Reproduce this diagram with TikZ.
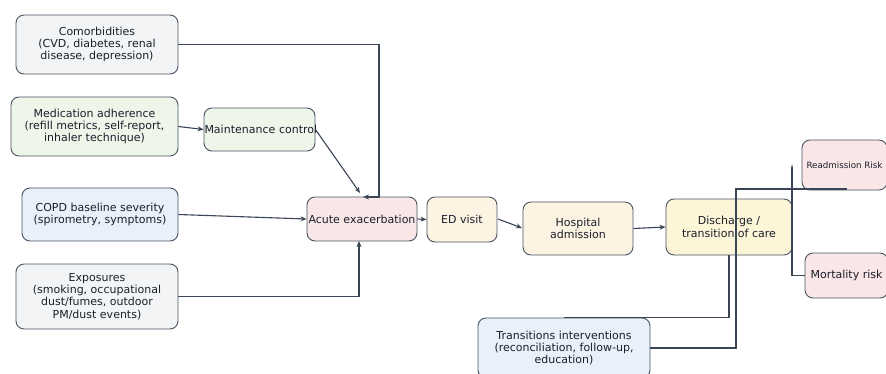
\documentclass[tikz,border=0pt]{standalone}
\usepackage{fontspec}
\setmainfont{DejaVu Sans}
\usetikzlibrary{arrows.meta,calc}
\definecolor{edgec}{HTML}{4A5261}
\definecolor{linec}{HTML}{3A4556}
\definecolor{txtc}{HTML}{1A1F2A}
\definecolor{fgray}{HTML}{F3F4F6}
\definecolor{fgreen}{HTML}{EEF6EA}
\definecolor{fblue}{HTML}{E8F0FB}
\definecolor{fpink}{HTML}{F9E6E6}
\definecolor{fcream}{HTML}{FDF3E3}
\definecolor{fyellow}{HTML}{FDF5D8}
\tikzset{
  box/.style={draw=edgec, line width=0.9pt, rounded corners=8pt, align=center,
    inner sep=0pt, text=txtc, font=\fontsize{11}{12.4}\selectfont},
  conn/.style={draw=linec, line width=1.1pt},
  arr/.style={conn, -{Stealth[length=6pt,width=5pt]}}
}
\begin{document}
\begin{tikzpicture}[x=1pt,y=-1pt]
\useasboundingbox (0,0) rectangle (886,373);
\fill[white] (0,0) rectangle (886,373);
\begin{scope}
\clip (0,0) rectangle (886,373);
\node[box, fill=fgray, minimum width=162pt, minimum height=59pt] (com) at (97,44.5)
  {Comorbidities\\(CVD, diabetes, renal\\disease, depression)};
\node[box, fill=fgreen, minimum width=167pt, minimum height=59pt] (med) at (94.5,126.5)
  {Medication adherence\\(refill metrics, self-report,\\inhaler technique)};
\node[box, fill=fgreen, minimum width=111pt, minimum height=43pt, text width=111pt] (mnt) at (259.5,129.5)
  {\makebox[111pt][l]{\hspace{0.5pt}Maintenance control}};
\node[box, fill=fblue, minimum width=156pt, minimum height=53pt] (copd) at (100,214.5)
  {COPD baseline severity\\(spirometry, symptoms)};
\node[box, fill=fgray, minimum width=162pt, minimum height=65pt] (exp) at (97,296.5)
  {Exposures\\(smoking, occupational\\dust/fumes, outdoor\\PM/dust events)};
\node[box, fill=fpink, minimum width=110pt, minimum height=44pt] (acu) at (362,219)
  {Acute exacerbation};
\node[box, fill=fcream, minimum width=70pt, minimum height=45pt] (ed) at (462,219.5)
  {ED visit};
\node[box, fill=fcream, minimum width=110pt, minimum height=53pt] (hosp) at (578,228.5)
  {Hospital\\admission};
\node[box, fill=fyellow, minimum width=126pt, minimum height=56pt] (dis) at (729,227)
  {Discharge /\\transition of care};
\node[box, fill=fpink, minimum width=85pt, minimum height=50pt, font=\fontsize{8.7}{10}\selectfont] (read) at (844.5,165)
  {Readmission Risk};
\node[box, fill=fpink, minimum width=83pt, minimum height=45pt] (mort) at (846.5,275.5)
  {Mortality risk};
\node[box, fill=fblue, minimum width=172pt, minimum height=60pt] (tra) at (564,348)
  {Transitions interventions\\(reconciliation, follow-up,\\education)};

% connectors
\coordinate (c1) at (379,197);
\coordinate (c1e) at (363,197);
\draw[arr] (com.east) -| (c1) -- (c1e);
\draw[arr] (med.east) -- (mnt.west);
\coordinate (c2) at (360,193);
\draw[arr] (mnt.east) -- (c2);
\draw[arr] (copd.east) -- (acu.west);
\coordinate (c3) at (359,241);
\draw[arr] (exp.east) -| (c3);
\draw[arr] (acu.east) -- (ed.west);
\coordinate (c4s) at (498,219);
\coordinate (c4e) at (522,228);
\draw[arr] (c4s) -- (c4e);
\draw[arr] (hosp.east) -- (dis.west);
\draw[conn] (tra.north) -| (dis.south);
\coordinate (c5) at (736,189);
\coordinate (c5e) at (847,189);
\draw[conn] (tra.east) -| (c5) -- (c5e);
\coordinate (c6) at (792,164);
\draw[conn, {Stealth[length=5pt,width=2pt]}-] (c6) |- (mort.west);
\end{scope}
\end{tikzpicture}
\end{document}
